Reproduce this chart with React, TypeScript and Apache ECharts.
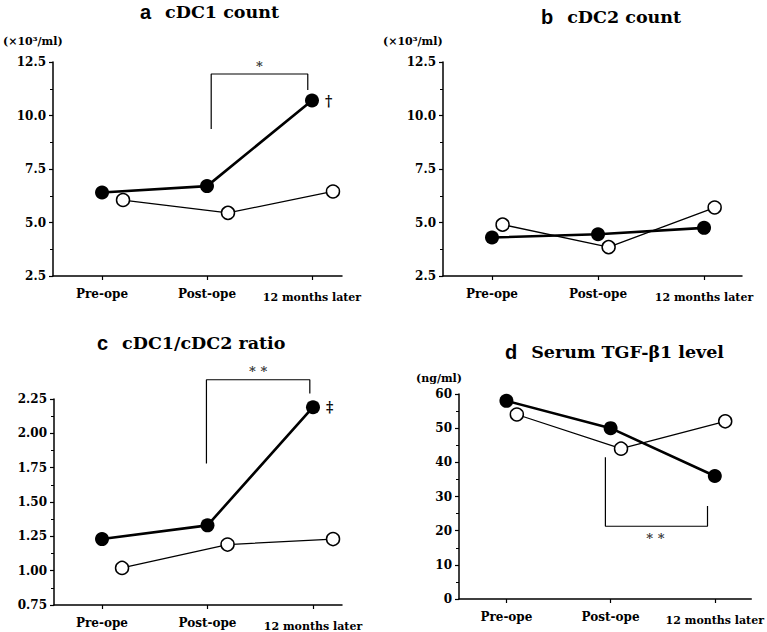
import React, { useEffect, useRef } from "react";
import * as echarts from "echarts";

// ---- data ----
const timePoints = ["Pre-ope", "Post-ope", "12 months later"];

const cdc1Filled = [6.4, 6.7, 10.7];
const cdc1Open = [6.05, 5.45, 6.45];

const cdc2Filled = [4.3, 4.45, 4.75];
const cdc2Open = [4.9, 3.85, 5.7];

const ratioFilled = [1.23, 1.33, 2.19];
const ratioOpen = [1.02, 1.19, 1.23];

const tgfFilled = [58, 50, 36];
const tgfOpen = [54, 44, 52];

// significance annotations (data units)
const bracketA = [[1.04, 9.37], [1.04, 11.94], [1.96, 11.94], [1.96, 11.19]];
const starA = [1.5, 12.27];
const bracketC = [[0.99, 1.78], [0.99, 2.39], [1.97, 2.39], [1.97, 2.29]];
const starC = [1.48, 2.45];
const bracketD = [[0.95, 41.5], [0.95, 21.3], [1.93, 21.3], [1.93, 27.2]];
const starD = [1.43, 17.8];

const SERIF = "DejaVu Serif";
const SANS = "Liberation Sans";

function App() {
  const ref = useRef<HTMLDivElement>(null);
  useEffect(() => {
    if (!ref.current) return;
    const chart = echarts.init(ref.current, null, { renderer: "svg" });

    const grids = [
      { left: 53, right: 425, top: 62, bottom: 356 },
      { left: 443, right: 25, top: 62, bottom: 356 },
      { left: 54, right: 425, top: 399, bottom: 27 },
      { left: 459, right: 12, top: 394, bottom: 33 },
    ];
    const xRanges = [
      [-0.467, 2.286],
      [-0.462, 2.358],
      [-0.455, 2.275],
      [-0.455, 2.35],
    ];
    const dodge = [0.2, 0.1, 0.19, 0.1];

    const xAxes = grids.map((_, i) => ({
      type: "value",
      gridIndex: i,
      min: xRanges[i][0],
      max: xRanges[i][1],
      splitLine: { show: false },
      axisLine: { show: true, onZero: false, lineStyle: { color: "#000", width: 1.5 } },
      axisTick: { show: true, customValues: [0, 1, 2], length: 4, lineStyle: { color: "#000", width: 1.2 } },
      axisLabel: {
        show: true,
        customValues: [0, 1, 2],
        margin: 12,
        formatter: (v: number) => {
          const idx = Math.round(v);
          if (idx === 2) return "{s|" + timePoints[idx] + "}";
          return "{b|" + (timePoints[idx] ?? "") + "}";
        },
        rich: {
          b: { fontFamily: SERIF, fontWeight: "bold", fontSize: 12, color: "#000" },
          s: { fontFamily: SERIF, fontWeight: "bold", fontSize: 11, color: "#000", padding: [4, 0, 0, 0] },
        },
      },
    }));

    const yCfg = [
      { min: 2.5, max: 12.5, interval: 2.5, dec: 1 },
      { min: 2.5, max: 12.5, interval: 2.5, dec: 1 },
      { min: 0.75, max: 2.25, interval: 0.25, dec: 2 },
      { min: 0, max: 60, interval: 10, dec: 0 },
    ];
    const yAxes = yCfg.map((c, i) => ({
      type: "value",
      gridIndex: i,
      min: c.min,
      max: c.max,
      interval: c.interval,
      splitLine: { show: false },
      axisLine: { show: true, onZero: false, lineStyle: { color: "#000", width: 1.5 } },
      axisTick: { show: true, length: 4, lineStyle: { color: "#000", width: 1.2 } },
      minorTick: { show: true, splitNumber: 2, length: 3, lineStyle: { color: "#000", width: 1 } },
      axisLabel: {
        margin: 7,
        fontFamily: SERIF,
        fontWeight: "bold",
        fontSize: 12,
        color: "#000",
        formatter: (v: number) => v.toFixed(c.dec),
      },
    }));

    const panels = [
      { filled: cdc1Filled, open: cdc1Open, mark: "†" },
      { filled: cdc2Filled, open: cdc2Open, mark: "" },
      { filled: ratioFilled, open: ratioOpen, mark: "‡" },
      { filled: tgfFilled, open: tgfOpen, mark: "" },
    ];

    const series: any[] = [];
    panels.forEach((p, i) => {
      series.push({
        type: "line",
        xAxisIndex: i,
        yAxisIndex: i,
        data: p.filled.map((v, k) => {
          const item: any = { value: [k, v] };
          if (k === 2 && p.mark) {
            item.label = {
              show: true,
              formatter: p.mark,
              position: "right",
              distance: 6,
              fontFamily: SERIF,
              fontWeight: "bold",
              fontSize: 14,
              color: "#000",
            };
          }
          return item;
        }),
        symbol: "circle",
        symbolSize: 14,
        itemStyle: { color: "#000", borderColor: "#000", borderWidth: 0 },
        lineStyle: { color: "#000", width: 2.6 },
        z: 3,
      });
      series.push({
        type: "line",
        xAxisIndex: i,
        yAxisIndex: i,
        data: p.open.map((v, k) => [k + dodge[i], v]),
        symbol: "circle",
        symbolSize: 13,
        itemStyle: { color: "#fff", borderColor: "#000", borderWidth: 1.5 },
        lineStyle: { color: "#000", width: 1.3 },
        z: 4,
      });
    });

    const annots = [
      { idx: 0, bracket: bracketA, star: starA, text: "*" },
      { idx: 2, bracket: bracketC, star: starC, text: "* *" },
      { idx: 3, bracket: bracketD, star: starD, text: "* *" },
    ];
    annots.forEach((a) => {
      series.push({
        type: "line",
        xAxisIndex: a.idx,
        yAxisIndex: a.idx,
        data: a.bracket,
        symbol: "none",
        clip: false,
        lineStyle: { color: "#000", width: 1.2 },
        z: 2,
        silent: true,
      });
      series.push({
        type: "scatter",
        xAxisIndex: a.idx,
        yAxisIndex: a.idx,
        data: [a.star],
        symbolSize: 1,
        itemStyle: { color: "rgba(0,0,0,0)" },
        clip: false,
        label: {
          show: true,
          position: "inside",
          formatter: a.text,
          fontFamily: SERIF,
          fontWeight: "bold",
          fontSize: 13,
          color: "#000",
        },
        z: 2,
        silent: true,
      });
    });

    const titleDefs = [
      { l: "a", t: "cDC1 count", left: 140, top: 1 },
      { l: "b", t: "cDC2 count", left: 541, top: 6 },
      { l: "c", t: "cDC1/cDC2 ratio", left: 97, top: 332 },
      { l: "d", t: "Serum TGF-β1 level", left: 505, top: 341 },
    ];
    const titles = titleDefs.map((d) => ({
      text: "{l|" + d.l + "}{t|" + d.t + "}",
      left: d.left,
      top: d.top,
      padding: 0,
      textStyle: {
        rich: {
          l: { fontFamily: SANS, fontWeight: "bold", fontSize: 20, color: "#000", padding: [0, 14, 0, 0], lineHeight: 22 },
          t: { fontFamily: SERIF, fontWeight: "bold", fontSize: 17.5, color: "#000", lineHeight: 22 },
        },
      },
    }));

    const unitStyle = { fontFamily: SERIF, fontWeight: "bold", fontSize: 11, fill: "#000" };
    const graphic = [
      { type: "text", left: 3, top: 36, style: { ...unitStyle, text: "(×10³/ml)" } },
      { type: "text", left: 383, top: 36, style: { ...unitStyle, text: "(×10³/ml)" } },
      { type: "text", left: 416, top: 373, style: { ...unitStyle, text: "(ng/ml)" } },
    ];

    chart.setOption({
      animation: false,
      backgroundColor: "#fff",
      title: titles,
      grid: grids,
      xAxis: xAxes,
      yAxis: yAxes,
      series,
      graphic,
    });

    return () => chart.dispose();
  }, []);

  return (
    <div
      ref={ref}
      style={{ position: "absolute", left: 0, top: 0, width: 767, height: 632, background: "#fff" }}
    />
  );
}

export default App;
